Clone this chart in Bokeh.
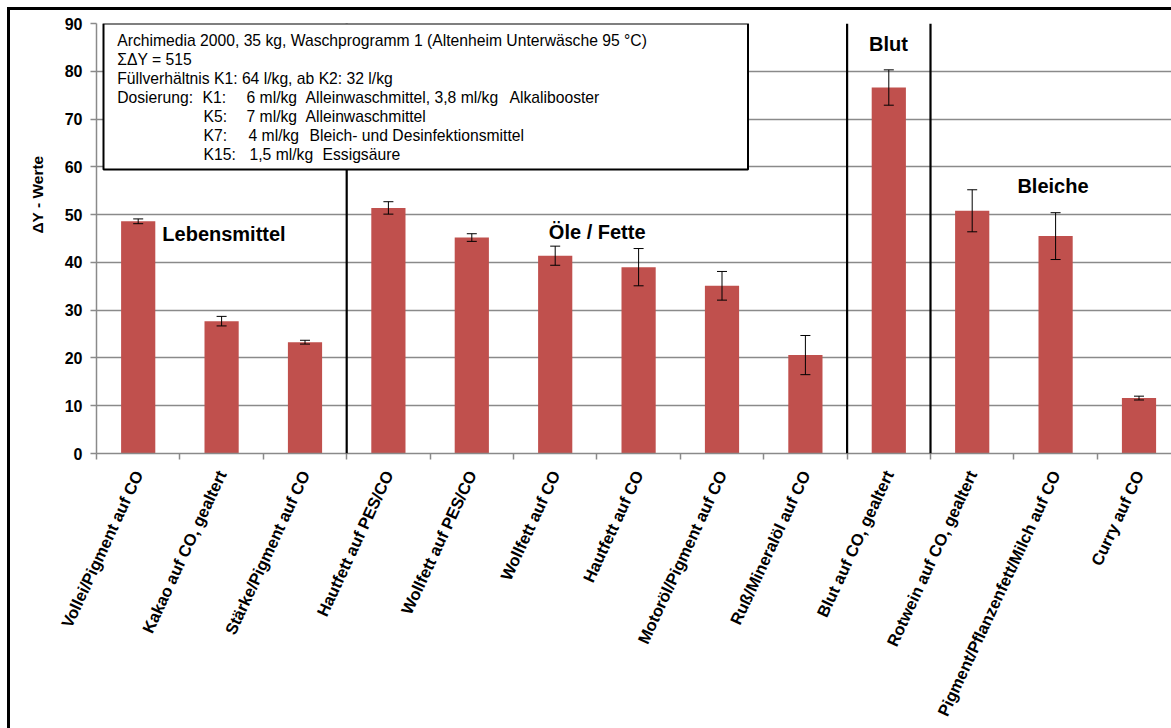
from math import radians

from bokeh.plotting import figure
from bokeh.models import (Range1d, FixedTicker, ColumnDataSource, Whisker, TeeHead,
                          BoxAnnotation, Label, Title, InlineStyleSheet)
from bokeh.embed import file_html
from bokeh.resources import INLINE

# ---------------------------------------------------------------- data
categories = [
    "Vollei/Pigment auf CO",
    "Kakao auf CO, gealtert",
    "Stärke/Pigment auf CO",
    "Hautfett auf PES/CO",
    "Wollfett auf PES/CO",
    "Wollfett auf CO",
    "Hautfett auf CO",
    "Motoröl/Pigment auf CO",
    "Ruß/Mineralöl auf CO",
    "Blut auf CO, gealtert",
    "Rotwein auf CO, gealtert",
    "Pigment/Pflanzenfett/Milch auf CO",
    "Curry auf CO",
]
delta_y = [48.6, 27.7, 23.3, 51.4, 45.2, 41.4, 39.0, 35.1, 20.6, 76.6, 50.8, 45.5, 11.6]
delta_y_err = [0.5, 1.0, 0.4, 1.3, 0.8, 2.0, 3.9, 3.0, 4.1, 3.7, 4.4, 4.9, 0.4]
y_ticks = [0, 10, 20, 30, 40, 50, 60, 70, 80, 90]

group_names = ["Lebensmittel", "Öle / Fette", "Blut", "Bleiche"]
group_starts = [3, 9, 10]          # index of the first category of a new group

info_rows = [
    ["Archimedia 2000, 35 kg, Waschprogramm 1 (Altenheim Unterwäsche 95 °C)"],
    ["ΣΔY = 515"],
    ["Füllverhältnis  K1: 64 l/kg, ab K2: 32 l/kg"],
    ["Dosierung:", "K1:", "6 ml/kg", "Alleinwaschmittel, 3,8 ml/kg", "Alkalibooster"],
    ["", "K5:", "7 ml/kg", "Alleinwaschmittel"],
    ["", "K7:", "4 ml/kg", "Bleich- und Desinfektionsmittel"],
    ["", "K15:", "1,5 ml/kg", "Essigsäure"],
]

# ---------------------------------------------------------------- geometry
W, H = 1171, 728
FRAME_L, FRAME_T, FRAME_B = 96, 23, 453
CAT_PX = 83.4                                # pixels per category slot
Y_MAX = 90
PX_PER_UNIT = (FRAME_B - FRAME_T) / Y_MAX
X_END = (W - FRAME_L) / CAT_PX

FONT = "Liberation Sans"
BAR = "#C0504D"
GRID = "#8a8a8a"


def dx(px):
    """canvas pixel column -> data x"""
    return (px - FRAME_L) / CAT_PX


def dy(py):
    """canvas pixel row -> data y"""
    return (FRAME_B - py) / PX_PER_UNIT


p = figure(width=W, height=H, output_backend="svg", toolbar_location=None,
           x_range=Range1d(0, X_END), y_range=Range1d(0, Y_MAX),
           min_border_left=FRAME_L, min_border_right=0,
           min_border_top=FRAME_T, min_border_bottom=H - FRAME_B)
p.outline_line_color = None
p.background_fill_color = "white"
p.border_fill_color = "white"

# black page frame along the top and left edge of the chart area
p.stylesheets = [InlineStyleSheet(css="""
:host::before {
  content: ""; position: absolute; left: 7px; top: 7px; right: 0; height: 2.5px;
  background: black; z-index: 10; pointer-events: none;
}
:host::after {
  content: ""; position: absolute; left: 7px; top: 7px; bottom: 0; width: 2.5px;
  background: black; z-index: 10; pointer-events: none;
}
""")]

# ---------------------------------------------------------------- axes
centers = [i + 0.5 for i in range(len(categories))]

xa = p.xaxis[0]
xa.ticker = FixedTicker(ticks=centers, minor_ticks=list(range(len(categories) + 1)))
xa.major_label_overrides = {c: name for c, name in zip(centers, categories)}
xa.major_label_orientation = radians(65)
xa.major_label_standoff = 12
xa.major_label_text_font = FONT
xa.major_label_text_font_style = "bold"
xa.major_label_text_font_size = "16.5px"
xa.major_label_text_color = "black"
xa.axis_line_color = GRID
xa.axis_line_width = 1.5
xa.major_tick_out = 0
xa.major_tick_in = 0
xa.minor_tick_out = 6
xa.minor_tick_in = 0
xa.minor_tick_line_color = GRID
xa.minor_tick_line_width = 1.5

ya = p.yaxis[0]
ya.ticker = FixedTicker(ticks=y_ticks)
ya.major_label_text_font = FONT
ya.major_label_text_font_style = "bold"
ya.major_label_text_font_size = "16px"
ya.major_label_text_color = "black"
ya.major_label_standoff = 8
ya.axis_line_color = GRID
ya.axis_line_width = 1.5
ya.major_tick_out = 6
ya.major_tick_in = 0
ya.major_tick_line_color = GRID
ya.major_tick_line_width = 1.5
ya.minor_tick_out = 0
ya.minor_tick_in = 0

p.xgrid.visible = False
p.ygrid.grid_line_color = GRID
p.ygrid.grid_line_width = 1.3

# y axis title, hung from the top of the frame
p.add_layout(Title(text="ΔY - Werte", align="right", offset=132, standoff=31,
                   text_font=FONT, text_font_style="bold", text_font_size="15.5px",
                   text_color="black"), "left")

# ---------------------------------------------------------------- bars + error bars
src = ColumnDataSource(dict(
    x=centers,
    top=delta_y,
    upper=[v + e for v, e in zip(delta_y, delta_y_err)],
    lower=[v - e for v, e in zip(delta_y, delta_y_err)],
))
p.vbar(x="x", top="top", width=0.41, source=src, fill_color=BAR, line_color=None)

p.add_layout(Whisker(
    source=src, base="x", upper="upper", lower="lower", level="overlay",
    line_color="black", line_width=1,
    upper_head=TeeHead(size=10, line_color="black", line_width=1),
    lower_head=TeeHead(size=10, line_color="black", line_width=1),
))

# ---------------------------------------------------------------- group separators
for g in group_starts:
    p.add_layout(BoxAnnotation(
        left=g - 1.1 / CAT_PX, right=g + 1.1 / CAT_PX,
        top=Y_MAX, bottom=0,
        fill_color="black", fill_alpha=1, line_color=None, level="annotation"))

# ---------------------------------------------------------------- group titles
group_pos = [(223.5, 233), (596.7, 231.5), (888, 43), (1052.5, 185)]
for name, (gx, gy) in zip(group_names, group_pos):
    p.add_layout(Label(x=dx(gx), y=dy(gy), text=name, text_font=FONT,
                       text_font_style="bold", text_font_size="20px",
                       text_align="center", text_baseline="middle",
                       text_color="black"))

# ---------------------------------------------------------------- info box
p.add_layout(BoxAnnotation(
    left=dx(103), right=dx(747.5), top=dy(23), bottom=dy(169),
    fill_color="white", fill_alpha=1, line_color="black", line_alpha=1,
    line_width=2, level="annotation"))

row_y = [40, 59, 78, 97, 116, 135, 154]
col_x = [
    [116.7],
    [116.7],
    [116.7],
    [116.7, 202, 246, 305, 509],
    [116.7, 203, 246, 305],
    [116.7, 203, 248, 309],
    [116.7, 203, 249, 322],
]
for texts, xs, ry in zip(info_rows, col_x, row_y):
    for t, cx in zip(texts, xs):
        if not t:
            continue
        p.add_layout(Label(x=dx(cx), y=dy(ry), text=t, text_font=FONT,
                           text_font_size="15.7px", text_align="left",
                           text_baseline="middle", text_color="black"))

open("out.html", "w").write(file_html(p, INLINE))
